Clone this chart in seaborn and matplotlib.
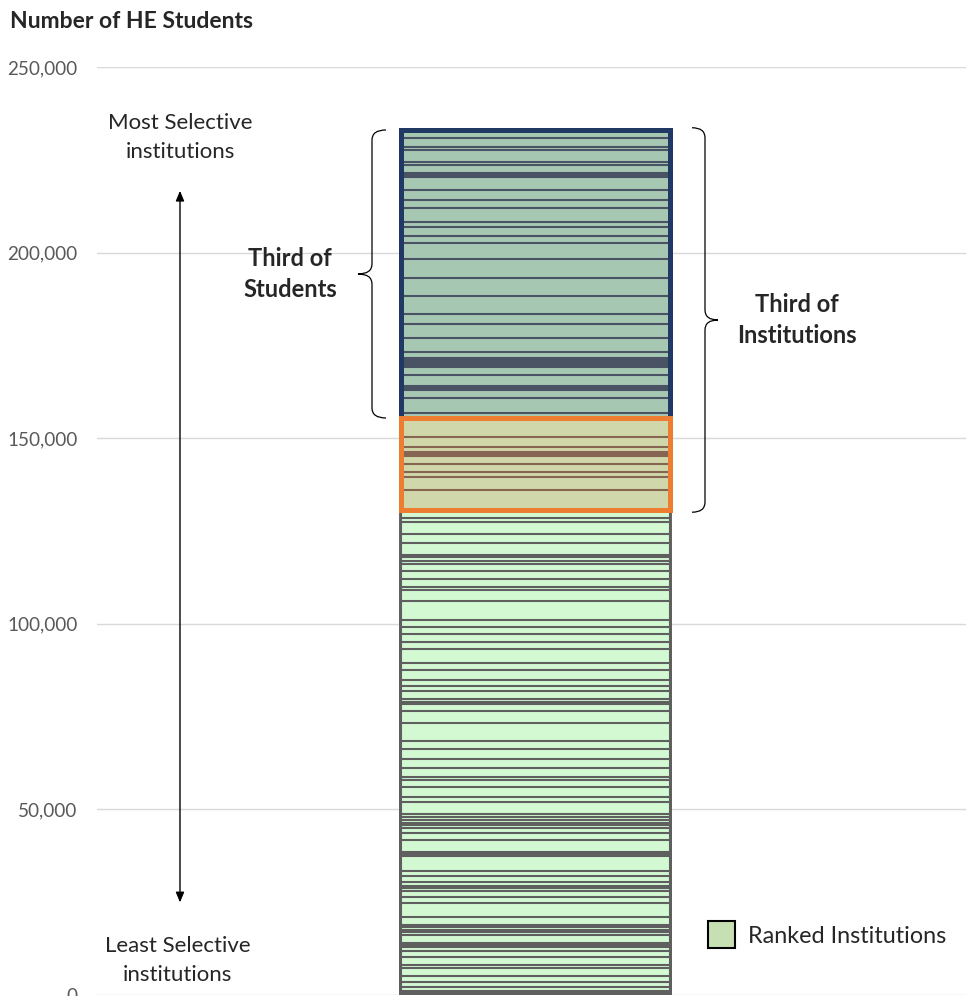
import pandas as pd
import matplotlib
matplotlib.use("Agg")
import matplotlib.pyplot as plt
import seaborn as sns
from matplotlib.patches import Rectangle, Patch, PathPatch
from matplotlib.path import Path
from matplotlib.transforms import blended_transform_factory

# students per institution, most selective first
blue_sizes = [2236, 2263, 889, 3314, 727, 2155, 539, 539, 3502, 2694, 2236, 3610,
              1509, 2344, 1805, 4472, 5119, 4688, 5011, 2694, 3610, 3772, 1697, 539,
              539, 539, 539, 404, 2021, 2963, 539, 539, 2236, 3879, 1428]
orange_sizes = [5199, 2694, 1185, 539, 539, 2236, 2236, 1185, 3583, 5388]
grey_sizes = [2236, 1078, 3233, 2425, 3152, 539, 997, 970, 1805, 2236, 1994, 889,
              2883, 5199, 1967, 1886, 2155, 1805, 3691, 1967, 2694, 1616, 1266, 2317,
              647, 700, 1724, 3394, 4688, 2317, 2694, 2425, 2425, 727, 1967, 2532,
              1509, 3152, 889, 727, 727, 700, 808, 1347, 1805, 3233, 539, 539, 3960,
              1428, 1697, 916, 700, 647, 1616, 1616, 3772, 2236, 620, 727, 620, 727,
              2236, 458, 404, 1131, 1616, 2236, 889, 2074, 1536, 1347, 1158, 539, 539]
y_ticks = [0, 50000, 100000, 150000, 200000, 250000]

groups = [
    ("blue", blue_sizes, "#A0CDB0", "#4A5363"),
    ("orange", orange_sizes, "#D5DEA3", "#866652"),
    ("grey", grey_sizes, "#CCFFCC", "#5F5F5F"),
]

sns.set_style("white")
plt.rcParams["font.family"] = ["Lato", "DejaVu Sans"]

fig = plt.figure(figsize=(9.66, 9.96), dpi=100)
ax = fig.add_axes([97 / 966, 1 / 996, 869 / 966, 928 / 996])

total = sum(blue_sizes) + sum(orange_sizes) + sum(grey_sizes)
bar_w = 0.31

# each institution drawn as a bar up to its cumulative top, tallest first
top = total
bounds = {}
for name, sizes, fill, edge in groups:
    tops = []
    for s in sizes:
        tops.append(top)
        top -= s
    bounds[name] = (top, tops[0])
    df = pd.DataFrame({"grp": ["HE"] * len(tops),
                       "inst": [f"{name}{i}" for i in range(len(tops))],
                       "top": tops})
    sns.barplot(data=df, x="grp", y="top", hue="inst", hue_order=list(df["inst"]),
                dodge=False, palette={k: fill for k in df["inst"]}, edgecolor=edge,
                linewidth=1.5, width=bar_w, legend=False, errorbar=None, ax=ax)

# outline boxes
for name, col in [("blue", "#1F3864"), ("orange", "#ED7D31")]:
    lo, hi = bounds[name]
    ax.add_patch(Rectangle((-bar_w / 2, lo), bar_w, hi - lo, fill=False,
                           edgecolor=col, lw=3.6, zorder=5))

ax.set_xlim(-0.5046, 0.4954)
ax.set_ylim(0, 250000)
ax.set_yticks(y_ticks)
ax.set_yticklabels([f"{v:,}" for v in y_ticks])
ax.tick_params(axis="y", length=0, pad=14, labelsize=13.6, labelcolor="#595959")
ax.set_xticks([])
ax.set_xlabel("")
ax.set_ylabel("")
ax.grid(axis="y", color="#D9D9D9", lw=1)
ax.set_axisbelow(True)
sns.despine(ax=ax, left=True, bottom=True)

fig.text(10 / 966, 1 - 22 / 996, "Number of HE Students", fontsize=16.5,
         fontweight="bold", va="center", ha="left")

trans = blended_transform_factory(ax.transAxes, ax.transData)


def brace(x_open, x_tip, y_top, y_bot, r=2700):
    xm = (x_open + x_tip) / 2
    ym = (y_top + y_bot) / 2
    verts = [(x_open, y_top), (xm, y_top), (xm, y_top - r), (xm, ym + r),
             (xm, ym), (x_tip, ym), (xm, ym), (xm, ym - r), (xm, y_bot + r),
             (xm, y_bot), (x_open, y_bot)]
    codes = [Path.MOVETO, Path.CURVE3, Path.CURVE3, Path.LINETO, Path.CURVE3,
             Path.CURVE3, Path.CURVE3, Path.CURVE3, Path.LINETO, Path.CURVE3,
             Path.CURVE3]
    ax.add_patch(PathPatch(Path(verts, codes), fill=False, lw=0.9,
                           edgecolor="black", transform=trans, clip_on=False))


brace(0.3326, 0.3003, total, bounds["blue"][0])
brace(0.6847, 0.7146, total + 600, bounds["orange"][0] - 600)

ax.text(0.222, (total + bounds["blue"][0]) / 2, "Third of\nStudents", transform=trans,
        ha="center", va="center", fontsize=17, fontweight="bold", linespacing=1.4)
ax.text(0.8055, (total + bounds["orange"][0]) / 2, "Third of\nInstitutions",
        transform=trans, ha="center", va="center", fontsize=17, fontweight="bold",
        linespacing=1.4)

ax.text(0.0955, 230900, "Most Selective\ninstitutions", transform=trans,
        ha="center", va="center", fontsize=16, linespacing=1.55)
ax.text(0.093, 9400, "Least Selective\ninstitutions", transform=trans,
        ha="center", va="center", fontsize=16, linespacing=1.55)
ax.annotate("", xy=(0.0955, 217400), xytext=(0.0955, 24200), xycoords=trans,
            textcoords=trans,
            arrowprops=dict(arrowstyle="<|-|>,head_length=0.6,head_width=0.25",
                            color="black", lw=1))

ax.legend(handles=[Patch(facecolor="#C6E0B4", edgecolor="black", lw=1.5,
                         label="Ranked Institutions")],
          loc="center left", bbox_to_anchor=(0.703, 0.0647), frameon=False,
          fontsize=16.8, handlelength=1.15, handleheight=1.4, handletextpad=0.55,
          borderpad=0, borderaxespad=0)

fig.savefig("out.png", dpi=100)
